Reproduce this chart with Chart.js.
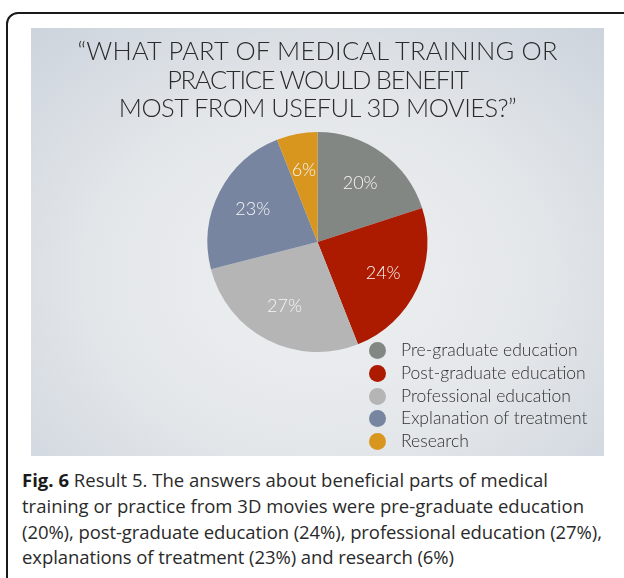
<!DOCTYPE html>
<html>
<head>
<meta charset="utf-8">
<script src="https://cdn.jsdelivr.net/npm/chart.js@4/dist/chart.umd.min.js"></script>
<style>
  html,body{margin:0;padding:0;background:#fff;width:624px;height:578px;overflow:hidden;}
  #frame{position:absolute;left:6px;top:12px;width:640px;height:600px;border:2px solid #1a1a1a;border-radius:12px;box-sizing:border-box;}
  #slide{position:absolute;left:31px;top:28px;width:573px;height:428px;
    background:radial-gradient(ellipse 75% 80% at 50% 58%, #eef0f1 0%, #e4e7ea 50%, #ccd3dc 100%);}
  #chart{position:absolute;left:0;top:0;width:573px;height:428px;}
  #title{position:absolute;left:0;top:8px;width:573px;text-align:center;font-family:Lato,"Open Sans",sans-serif;font-weight:300;
    font-size:25.5px;line-height:28.5px;color:#2b2b2b;}
  #title div{white-space:nowrap;}
  #legend{position:absolute;left:337px;top:311px;font-family:Lato,"Open Sans",sans-serif;font-weight:300;font-size:17.5px;color:#2e2e2e;}
  #legend .row{height:22.75px;line-height:22.75px;white-space:nowrap;position:relative;padding-left:33px;}
  #legend .dot{position:absolute;left:1px;top:3px;width:17px;height:17px;border-radius:50%;}
  #caption{position:absolute;left:22px;top:467px;font-family:"Open Sans",sans-serif;font-size:18.5px;line-height:25.8px;color:#2a2a2a;}
  #caption span{display:inline-block;white-space:nowrap;}
  #caption b{font-weight:700;color:#1a1a1a;}
</style>
</head>
<body>
<div id="frame"></div>
<div id="slide">
  <canvas id="chart" width="573" height="428"></canvas>
  <div id="title"></div>
  <div id="legend"></div>
</div>
<div id="caption"></div>
<script>
const titleLines = ["\u201CWHAT PART OF MEDICAL TRAINING OR", "PRACTICE WOULD BENEFIT", "MOST FROM USEFUL 3D MOVIES?\u201D"];
const categories = ["Pre-graduate education", "Post-graduate education", "Professional education", "Explanation of treatment", "Research"];
const percentValues = [20, 24, 27, 23, 6];
const sliceColors = ["#828784", "#ac1a00", "#b5b5b5", "#7785a0", "#d8961f"];
const captionLines = [
  "<b>Fig. 6</b> Result 5. The answers about beneficial parts of medical",
  "training or practice from 3D movies were pre-graduate education",
  "(20%), post-graduate education (24%), professional education (27%),",
  "explanations of treatment (23%) and research (6%)"
];
const captionWidths = [526, 562, 580, 432];
const titleWidths = [480, 302, 398];

function fitLine(el, target) {
  const w = el.getBoundingClientRect().width;
  const n = el.textContent.length - 1;
  if (n > 0) el.style.letterSpacing = ((target - w) / n) + 'px';
}

const titleEl = document.getElementById('title');
titleLines.forEach((t, i) => {
  const d = document.createElement('div');
  const s = document.createElement('span');
  s.textContent = t;
  d.appendChild(s);
  titleEl.appendChild(d);
  fitLine(s, titleWidths[i]);
});

const capEl = document.getElementById('caption');
captionLines.forEach((t, i) => {
  const s = document.createElement('span');
  s.innerHTML = t;
  capEl.appendChild(s);
  capEl.appendChild(document.createElement('br'));
  fitLine(s, captionWidths[i]);
});

const legendEl = document.getElementById('legend');
categories.forEach((c, i) => {
  const row = document.createElement('div');
  row.className = 'row';
  const dot = document.createElement('span');
  dot.className = 'dot';
  dot.style.background = sliceColors[i];
  row.appendChild(dot);
  row.appendChild(document.createTextNode(c));
  legendEl.appendChild(row);
});

const sliceLabels = {
  id: 'sliceLabels',
  afterDatasetsDraw(chart) {
    const ctx = chart.ctx;
    const meta = chart.getDatasetMeta(0);
    ctx.save();
    ctx.fillStyle = '#f6f6f6';
    ctx.font = '300 18px Lato, "Open Sans", sans-serif';
    ctx.textAlign = 'center';
    ctx.textBaseline = 'middle';
    meta.data.forEach((arc, i) => {
      const p = arc.getProps(['x', 'y', 'startAngle', 'endAngle', 'outerRadius']);
      const mid = (p.startAngle + p.endAngle) / 2;
      const r = p.outerRadius * 0.66;
      ctx.fillText(percentValues[i] + '%', p.x + Math.cos(mid) * r, p.y + Math.sin(mid) * r);
    });
    ctx.restore();
  }
};

new Chart(document.getElementById('chart'), {
  type: 'pie',
  data: {
    labels: categories,
    datasets: [{ data: percentValues, backgroundColor: sliceColors, borderWidth: 0 }]
  },
  options: {
    responsive: false,
    animation: false,
    layout: { padding: { top: 104, bottom: 104, left: 0, right: 0 } },
    plugins: { legend: { display: false }, tooltip: { enabled: false }, title: { display: false } }
  },
  plugins: [sliceLabels]
});
</script>
</body>
</html>
